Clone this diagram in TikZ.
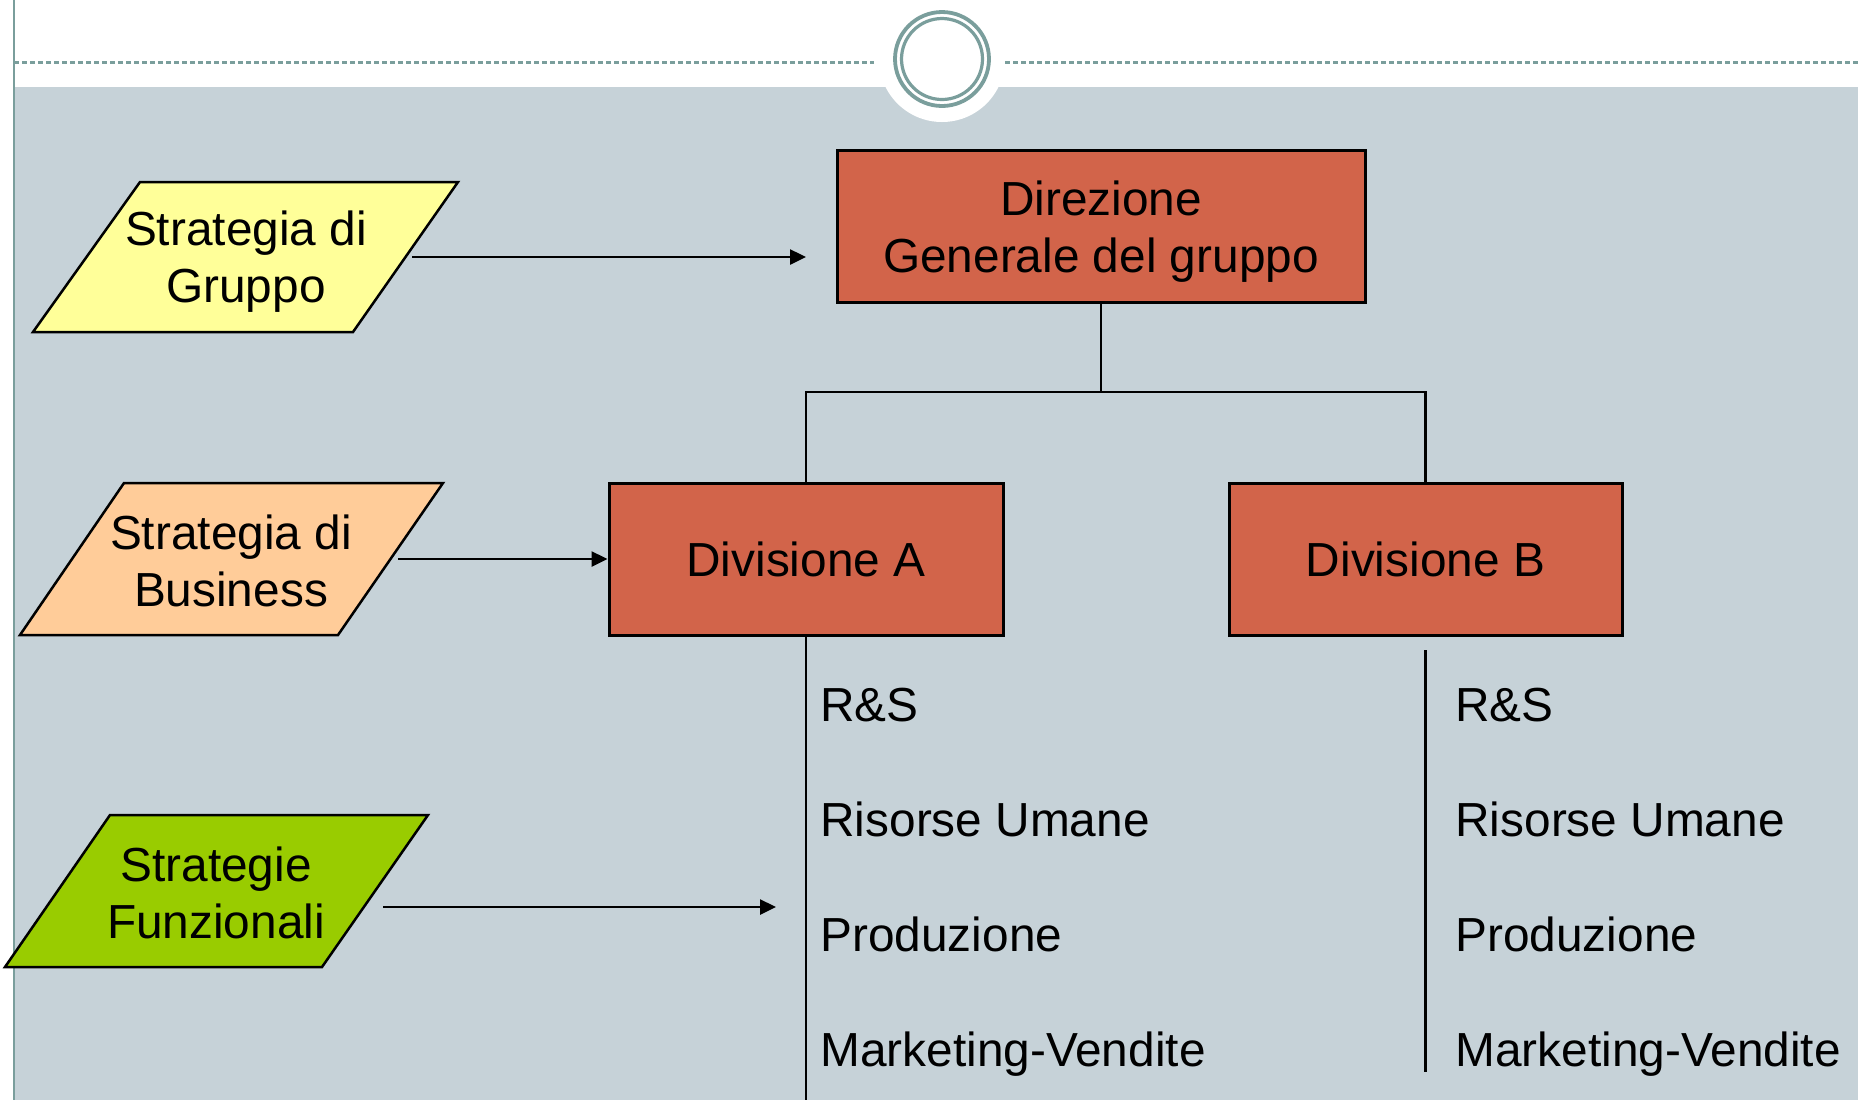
\documentclass[tikz,border=0pt]{standalone}
\usepackage{fontspec}
\setmainfont{Liberation Sans}
\usetikzlibrary{arrows.meta}
\definecolor{bggray}{HTML}{C6D2D8}
\definecolor{teal}{HTML}{7A9E9C}
\definecolor{boxred}{HTML}{D2644A}
\definecolor{pyellow}{HTML}{FFFF99}
\definecolor{porange}{HTML}{FFCC99}
\definecolor{pgreen}{HTML}{99CC00}
\tikzset{
  txt/.style={font=\fontsize{23.9pt}{28.5pt}\selectfont, align=center, inner sep=0pt},
  orgbox/.style={draw=black, line width=1.5pt, fill=boxred, minimum height=76pt, txt},
  para/.style={draw=black, line width=1.25pt},
  conn/.style={draw=black, line width=1.25pt},
  arr/.style={conn, -{Triangle[length=8pt,width=7.5pt]}},
  item/.style={font=\fontsize{23.9pt}{28.5pt}\selectfont, anchor=base west, inner sep=0pt}
}
\begin{document}
\begin{tikzpicture}[x=0.5pt,y=-0.5pt]
\useasboundingbox (0,0) rectangle (1858,1100);
% background
\fill[white] (0,0) rectangle (1858,1100);
\fill[bggray] (14,87) rectangle (1858,1100);
\draw[teal, line width=1pt] (14,0) -- (14,1100);
\draw[teal, line width=1.5pt, dash pattern=on 2.5pt off 1.5pt] (14,62) -- (874,62);
\draw[teal, line width=1.5pt, dash pattern=on 2.5pt off 1.5pt] (1005,62) -- (1858,62);
\fill[white] (942,59) circle[radius=63];
\draw[teal, line width=1.9pt] (942,59) circle[radius=47];
\draw[teal, line width=1.6pt] (942,59) circle[radius=40.5];

% parallelograms
\draw[para, fill=pyellow] (140,182) -- (458,182) -- (353,332) -- (33,332) -- cycle;
\node[txt] (sg) at (246,262) {Strategia di\\Gruppo};
\draw[para, fill=porange] (124,483) -- (443,483) -- (338,635) -- (20,635) -- cycle;
\node[txt] (sb) at (231,561) {Strategia di\\Business};
\draw[para, fill=pgreen] (110,815) -- (428,815) -- (322,967) -- (5,967) -- cycle;
\node[txt] (sf) at (216,893) {Strategie\\Funzionali};

% boxes
\node[orgbox, minimum width=264pt] (dir) at (1101,226) {};
\node[txt] (dirT) at (1101,232) {Direzione\\Generale del gruppo};
\node[orgbox, minimum width=197pt] (divA) at (806,559) {Divisione A};
\node[orgbox, minimum width=196.5pt] (divB) at (1425.5,559) {Divisione B};

% tree
\coordinate (jn) at (1101,392);
\draw[conn] (dir.south) -- (jn);
\draw[conn] (jn) -| (divA.north);
\draw[conn] (jn) -| (divB.north);

% vertical lines
\coordinate (aEnd) at (806,1100);
\draw[conn] (divA.south) -- (aEnd);
\coordinate (bStart) at (1425.5,650);
\coordinate (bEnd) at (1425.5,1072);
\draw[conn] (bStart) -- (bEnd);

% arrows
\coordinate (sgR) at (412,257);
\coordinate (sgE) at (806,257);
\draw[arr] (sgR) -- (sgE);
\coordinate (sbR) at (398,559);
\draw[arr] (sbR) -- (divA.west);
\coordinate (sfR) at (383,907);
\coordinate (sfE) at (776,907);
\draw[arr] (sfR) -- (sfE);

% lists
\node[item] (a1) at (820,721) {R\&S};
\node[item] (a2) at (820,836) {Risorse Umane};
\node[item] (a3) at (820,951) {Produzione};
\node[item] (a4) at (820,1066) {Marketing-Vendite};
\node[item] (b1) at (1455,721) {R\&S};
\node[item] (b2) at (1455,836) {Risorse Umane};
\node[item] (b3) at (1455,951) {Produzione};
\node[item] (b4) at (1455,1066) {Marketing-Vendite};
\end{tikzpicture}
\end{document}
